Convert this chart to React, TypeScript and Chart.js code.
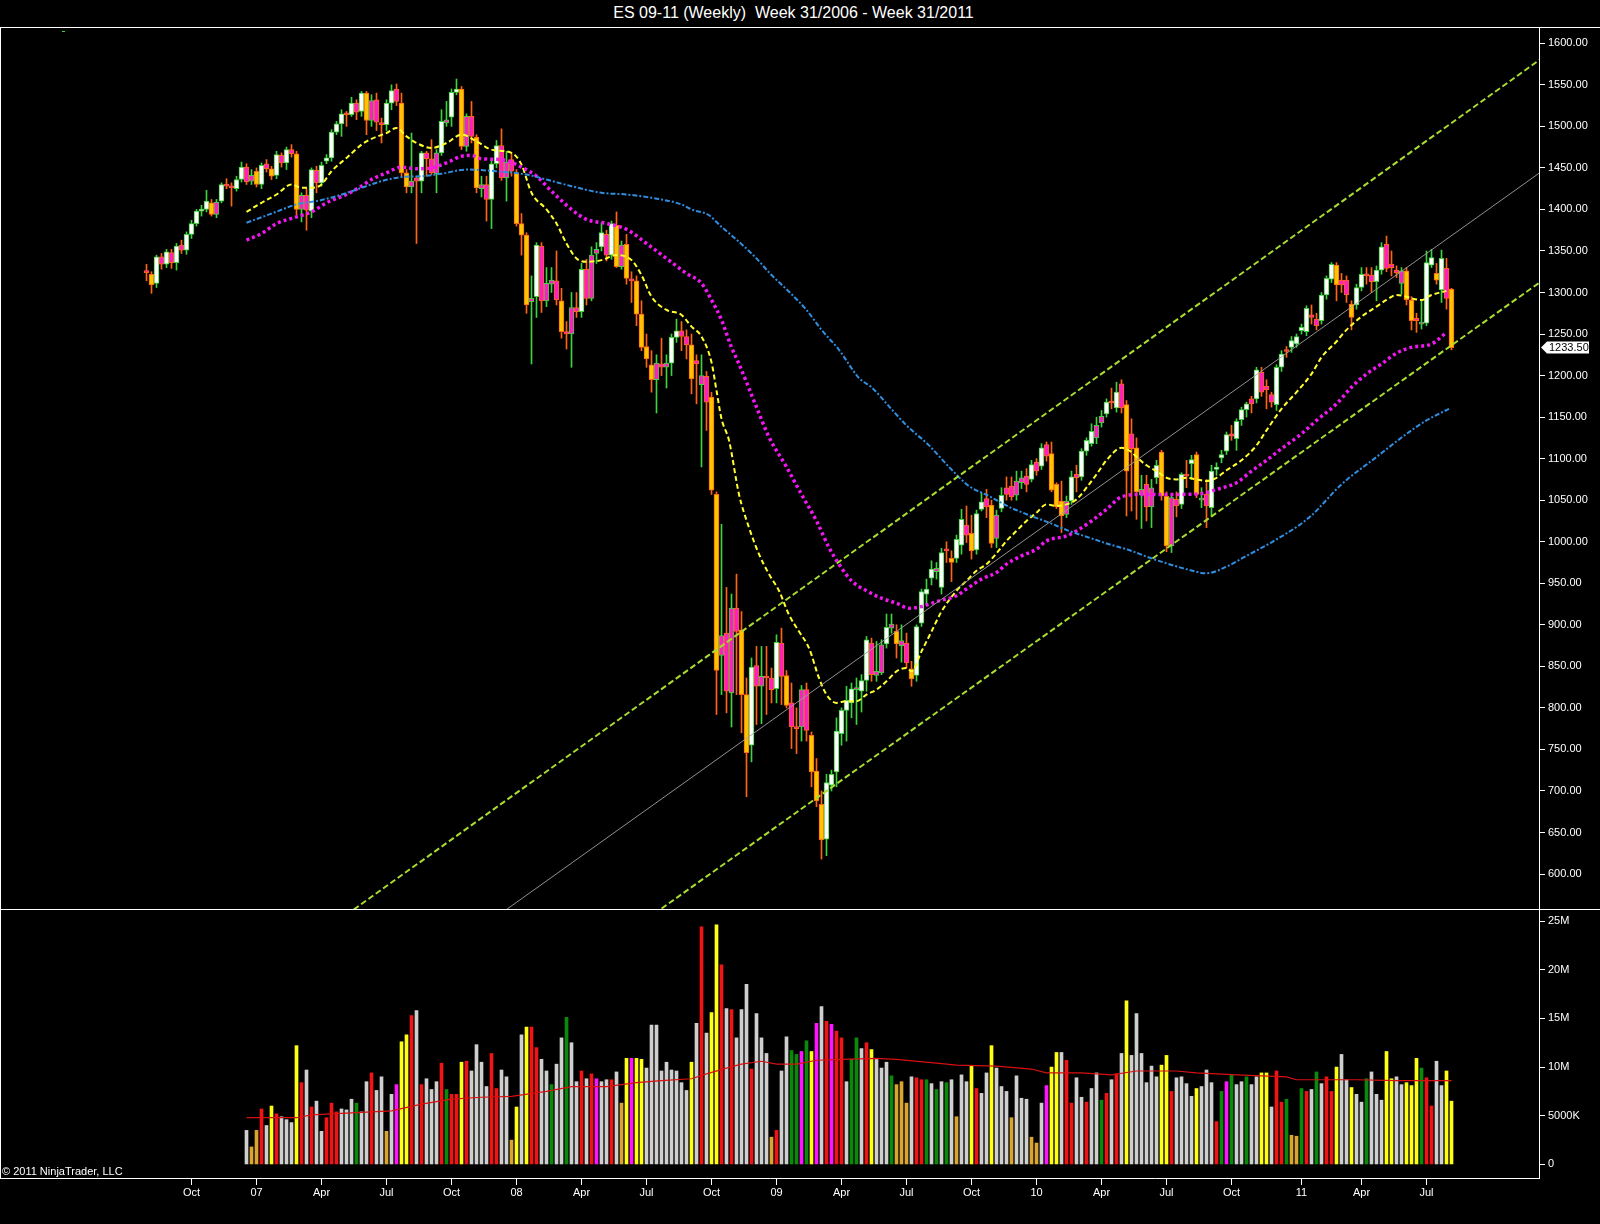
import { useEffect, useRef } from 'react';
import Chart from 'chart.js/auto';

// Weekly bars of the back-adjusted ES contract, bar 0 = Friday 4 Aug 2006 (week 31/2006)
const FIRST_BAR = Date.UTC(2006, 7, 4);
const WEEK_MS = 7 * 24 * 3600 * 1000;

const opens = [
  1325, 1322, 1311, 1343, 1334, 1348, 1336, 1357, 1351, 1370,
  1383, 1398, 1400, 1408, 1394, 1410, 1430, 1428, 1425, 1436,
  1451, 1434, 1446, 1430, 1455, 1449, 1441, 1465, 1456, 1472,
  1467, 1400, 1417, 1398, 1447, 1432, 1458, 1462, 1493, 1503,
  1515, 1514, 1528, 1518, 1540, 1507, 1532, 1503, 1502, 1528,
  1545, 1528, 1444, 1427, 1438, 1434, 1468, 1461, 1443, 1468,
  1504, 1511, 1541, 1545, 1476, 1512, 1487, 1425, 1430, 1412,
  1455, 1477, 1438, 1460, 1444, 1383, 1369, 1289, 1295, 1356,
  1290, 1310, 1314, 1290, 1253, 1250, 1282, 1277, 1328, 1293,
  1347, 1355, 1370, 1345, 1381, 1331, 1358, 1316, 1314, 1274,
  1235, 1213, 1195, 1214, 1210, 1215, 1246, 1254, 1247, 1237,
  1218, 1189, 1199, 1174, 1057, 863, 890, 818, 920, 894,
  816, 755, 851, 826, 838, 836, 823, 878, 839, 806,
  777, 777, 822, 767, 724, 684, 642, 707, 723, 769,
  797, 806, 822, 820, 833, 878, 839, 842, 877, 896,
  892, 875, 878, 847, 839, 902, 937, 956, 964, 945,
  990, 980, 980, 996, 1020, 1010, 990, 1039, 1052, 1044,
  1004, 1040, 1065, 1067, 1056, 1071, 1079, 1075, 1096, 1091,
  1117, 1106, 1069, 1049, 1033, 1049, 1081, 1078, 1109, 1118,
  1125, 1143, 1154, 1168, 1161, 1190, 1165, 1130, 1113, 1056,
  1069, 1042, 1077, 1108, 1055, 995, 1051, 1045, 1080, 1094,
  1105, 1050, 1057, 1041, 1087, 1101, 1109, 1130, 1124, 1147,
  1159, 1172, 1172, 1204, 1187, 1177, 1165, 1210, 1231, 1234,
  1238, 1254, 1253, 1273, 1268, 1266, 1297, 1316, 1333, 1315,
  1315, 1286, 1285, 1306, 1322, 1321, 1313, 1327, 1358, 1334,
  1327, 1311, 1326, 1291, 1269, 1262, 1263, 1333, 1323, 1303,
  1329, 1304,
];

const highs = [
  1334, 1325, 1345, 1347, 1352, 1352, 1359, 1363, 1373, 1387,
  1400, 1405, 1423, 1412, 1412, 1432, 1437, 1432, 1440, 1457,
  1455, 1448, 1450, 1456, 1460, 1452, 1470, 1468, 1475, 1478,
  1470, 1420, 1425, 1450, 1452, 1457, 1466, 1496, 1506, 1520,
  1518, 1535, 1532, 1542, 1542, 1538, 1540, 1510, 1532, 1550,
  1551, 1540, 1448, 1492, 1440, 1470, 1470, 1484, 1472, 1520,
  1530, 1545, 1557, 1548, 1515, 1530, 1490, 1440, 1440, 1460,
  1483, 1497, 1470, 1468, 1448, 1395, 1372, 1320, 1360, 1360,
  1330, 1330, 1350, 1305, 1265, 1300, 1300, 1335, 1340, 1355,
  1360, 1384, 1375, 1386, 1397, 1362, 1370, 1325, 1320, 1290,
  1250, 1230, 1225, 1245, 1225, 1250, 1268, 1265, 1255, 1250,
  1225, 1225, 1205, 1180, 1060, 1021, 945, 937, 961, 916,
  836, 860, 874, 874, 874, 848, 888, 896, 845, 830,
  800, 827, 830, 771, 739, 700, 720, 725, 788, 800,
  826, 830, 836, 840, 886, 884, 880, 882, 913, 913,
  900, 900, 890, 856, 900, 943, 955, 977, 975, 992,
  1000, 989, 1008, 1039, 1043, 1032, 1038, 1059, 1063, 1050,
  1038, 1065, 1078, 1078, 1085, 1085, 1088, 1098, 1100, 1118,
  1120, 1120, 1071, 1073, 1055, 1085, 1092, 1112, 1125, 1142,
  1150, 1158, 1172, 1185, 1192, 1195, 1170, 1148, 1125, 1080,
  1080, 1075, 1098, 1110, 1060, 1057, 1060, 1083, 1098, 1104,
  1108, 1065, 1075, 1092, 1095, 1110, 1132, 1140, 1148, 1162,
  1168, 1175, 1210, 1210, 1195, 1180, 1213, 1230, 1235, 1247,
  1250, 1262, 1284, 1285, 1275, 1300, 1320, 1336, 1336, 1323,
  1320, 1290, 1310, 1330, 1330, 1330, 1332, 1360, 1368, 1350,
  1332, 1330, 1330, 1295, 1275, 1290, 1350, 1352, 1335, 1351,
  1341, 1305,
];

const lows = [
  1314, 1299, 1306, 1328, 1330, 1329, 1327, 1347, 1346, 1365,
  1380, 1392, 1397, 1392, 1390, 1408, 1425, 1404, 1422, 1433,
  1430, 1430, 1427, 1425, 1445, 1436, 1437, 1451, 1448, 1463,
  1393, 1385, 1375, 1390, 1420, 1428, 1455, 1458, 1490, 1488,
  1500, 1512, 1508, 1512, 1490, 1500, 1495, 1480, 1495, 1520,
  1525, 1440, 1420, 1420, 1359, 1420, 1440, 1442, 1420, 1465,
  1500, 1500, 1538, 1472, 1470, 1480, 1420, 1415, 1386, 1377,
  1450, 1435, 1410, 1440, 1380, 1345, 1275, 1214, 1270, 1276,
  1283, 1300, 1285, 1245, 1232, 1210, 1270, 1270, 1285, 1290,
  1335, 1350, 1338, 1340, 1330, 1328, 1310, 1288, 1260, 1230,
  1210, 1180, 1155, 1200, 1185, 1200, 1240, 1230, 1220, 1178,
  1166, 1090, 1134, 1057, 792, 816, 794, 777, 816, 770,
  693, 735, 780, 781, 792, 806, 806, 804, 800, 751,
  745, 760, 760, 705, 681, 618, 622, 700, 705, 755,
  760, 788, 780, 795, 820, 832, 832, 840, 872, 890,
  860, 855, 848, 826, 832, 898, 925, 948, 955, 937,
  975, 952, 975, 985, 999, 979, 985, 1037, 1029, 993,
  993, 1036, 1050, 1050, 1050, 1064, 1060, 1072, 1080, 1087,
  1097, 1060, 1040, 1011, 1029, 1045, 1060, 1074, 1104, 1115,
  1118, 1138, 1150, 1160, 1156, 1155, 1031, 1037, 1027, 1016,
  1025, 1017, 1070, 1050, 988, 987, 1030, 1040, 1065, 1075,
  1053, 1041, 1017, 1030, 1080, 1095, 1105, 1122, 1110, 1140,
  1150, 1155, 1167, 1175, 1160, 1162, 1158, 1205, 1222, 1228,
  1234, 1250, 1248, 1262, 1255, 1262, 1292, 1312, 1290, 1300,
  1288, 1255, 1280, 1302, 1310, 1300, 1290, 1322, 1325, 1320,
  1318, 1298, 1285, 1255, 1252, 1256, 1260, 1330, 1310, 1288,
  1280, 1231,
];

const closes = [
  1324, 1309, 1343, 1334, 1349, 1336, 1356, 1351, 1370, 1383,
  1398, 1400, 1410, 1394, 1409, 1430, 1428, 1426, 1436, 1451,
  1433, 1441, 1430, 1453, 1449, 1440, 1466, 1456, 1472, 1467,
  1400, 1417, 1399, 1448, 1432, 1453, 1462, 1493, 1503, 1515,
  1514, 1528, 1517, 1540, 1507, 1531, 1505, 1502, 1528, 1543,
  1530, 1444, 1427, 1434, 1434, 1468, 1461, 1444, 1468, 1506,
  1508, 1541, 1545, 1476, 1512, 1488, 1426, 1430, 1412, 1455,
  1477, 1438, 1457, 1446, 1383, 1369, 1285, 1293, 1357, 1290,
  1311, 1315, 1291, 1253, 1250, 1282, 1277, 1328, 1293, 1345,
  1352, 1372, 1345, 1383, 1331, 1357, 1317, 1314, 1274, 1234,
  1220, 1195, 1215, 1210, 1215, 1246, 1254, 1247, 1237, 1196,
  1214, 1200, 1168, 1062, 845, 887, 820, 920, 892, 816,
  746, 849, 826, 838, 836, 822, 879, 838, 803, 777,
  775, 822, 773, 723, 688, 641, 710, 720, 772, 797,
  809, 823, 823, 833, 882, 840, 844, 876, 897, 901,
  877, 881, 854, 835, 898, 940, 943, 967, 968, 987,
  989, 975, 1003, 1027, 1008, 989, 1034, 1048, 1042, 998,
  1032, 1056, 1057, 1054, 1073, 1077, 1069, 1093, 1085, 1113,
  1103, 1062, 1042, 1031, 1049, 1078, 1077, 1109, 1122, 1133,
  1140, 1151, 1168, 1167, 1180, 1161, 1085, 1112, 1060, 1063,
  1042, 1065, 1092, 1055, 995, 1053, 1043, 1081, 1079, 1099,
  1057, 1052, 1043, 1085, 1090, 1105, 1129, 1127, 1145, 1159,
  1166, 1166, 1207, 1180, 1183, 1168, 1210, 1226, 1229, 1242,
  1247, 1258, 1281, 1270, 1260, 1297, 1317, 1334, 1309, 1309,
  1297, 1270, 1306, 1322, 1320, 1313, 1327, 1355, 1329, 1330,
  1324, 1326, 1291, 1266, 1266, 1264, 1336, 1342, 1315, 1341,
  1293, 1233.5,
];

// candle paint: w = hollow up, g = magenta up, m = magenta down, y = yellow down
const candleKinds = (
  'mywmwmwmww' + 'wwwygwmmww' + 'mgywmywmwm' + 'ygmwmwwwww' + 'mwmwygmmww' +
  'myygmwmmgw' + 'gwwygmygmw' + 'wmgmyyygwm' + 'ggmymgmwmg' + 'gwmwygymyy' +
  'yygmgwwmmy' + 'mgmyygmgmy' + 'ywmgmmwmym' + 'mgmyyywwww' + 'wwgwwmggwg' +
  'ygmywwwwgw' + 'mywwmywwmy' + 'gwmmggmwmw' + 'myyygwmwww' + 'ggwmwmymyg' +
  'mgwyygmwmw' + 'ygmwwwwmww' + 'wmwmmmwwmw' + 'wwwmmwwwym' + 'mywwmmwwmm' +
  'mgyymgwwyw' + 'my'
).split('');

// volume (millions of contracts), first bar with volume is bar 20
const volumeStart = 20;
const volumes = [
  3.5, 1.8, 3.5, 5.7, 4.0, 6.0, 5.2, 4.9, 4.6, 4.3,
  12.2, 8.4, 9.7, 5.9, 6.5, 3.4, 4.8, 6.3, 5.4, 5.7,
  5.6, 6.7, 6.3, 5.4, 8.5, 9.4, 7.6, 9.0, 3.4, 7.2,
  8.2, 12.6, 13.3, 15.3, 15.8, 8.2, 8.8, 7.7, 8.5, 10.4,
  7.7, 7.2, 7.2, 10.5, 10.6, 9.6, 12.3, 10.5, 8.0, 11.4,
  7.8, 9.7, 9.0, 2.5, 5.9, 13.3, 14.1, 14.1, 12.0, 10.8,
  9.6, 8.2, 10.3, 13.0, 15.1, 12.5, 8.5, 9.6, 8.8, 9.3,
  8.8, 8.5, 8.7, 8.7, 9.5, 6.3, 10.9, 10.9, 10.9, 10.8,
  9.9, 14.3, 14.3, 9.6, 10.5, 9.7, 9.6, 8.4, 7.6, 10.5,
  14.5, 24.4, 13.5, 15.6, 24.6, 20.5, 16.0, 15.9, 13.0, 15.9,
  18.5, 9.8, 15.5, 13.0, 11.4, 2.8, 3.5, 9.6, 13.1, 11.7,
  11.3, 11.6, 12.7, 11.6, 14.5, 16.2, 14.7, 14.4, 13.7, 13.0,
  8.5, 10.8, 13.0, 11.9, 12.5, 11.8, 10.9, 9.9, 10.5, 9.1,
  8.2, 8.5, 6.3, 9.0, 8.9, 8.7, 8.7, 8.3, 7.7, 8.5,
  8.4, 8.7, 4.9, 9.2, 8.5, 10.1, 7.8, 7.3, 9.4, 12.2,
  9.9, 8.0, 7.5, 4.8, 9.1, 6.8, 6.7, 2.8, 2.2, 6.3,
  8.1, 10.0, 11.5, 11.5, 10.7, 6.3, 8.9, 6.9, 6.4, 7.8,
  9.4, 6.6, 7.3, 8.7, 9.3, 11.4, 16.8, 11.2, 15.5, 11.4,
  8.4, 10.1, 9.0, 10.2, 11.2, 7.5, 8.9, 9.0, 8.3, 7.0,
  7.8, 8.0, 9.7, 8.4, 4.4, 7.5, 8.5, 9.2, 8.2, 8.5,
  9.0, 8.2, 9.0, 9.4, 9.4, 5.9, 9.6, 6.4, 6.7, 3.0,
  2.9, 7.8, 7.5, 7.7, 9.5, 8.3, 9.0, 7.5, 10.0, 11.3,
  8.7, 7.9, 7.2, 6.4, 8.8, 9.5, 7.2, 6.6, 11.6, 8.8,
  9.0, 8.2, 8.4, 8.1, 10.9, 9.9, 8.9, 6.0, 10.6, 8.1,
  9.6, 6.5,
];

// volume paint: w white, o gold, r red, y yellow, g green, m magenta
const volumeKinds = (
  'woorwyrwww' + 'yrwrwwrrrw' + 'wwgwwrwwow' + 'myyrwrwwwr' + 'grryrwwwwr' +
  'rwwoywyrrw' + 'wgwwgwwrwr' + 'mwwrwoymyy' + 'wwwwwwwwwy' + 'wrwyyrwrww' +
  'wrwwworwwg' + 'gmgymwrmrr' + 'wggwrywwwg' + 'ooowrrgwgw' + 'gwowwyrwwy' +
  'wwwowwwoow' + 'myywrrwwrw' + 'wgrwrwywww' + 'wwwyyrwwww' + 'ywwwrgmgww' +
  'gwwyywrrgo' + 'ogrwgwrryw' + 'wywwgwwwyy' + 'wwyyygrrww' + 'yy'
).split('');

// moving averages: [bar, value]
const fastAverage = [
  [20, 1397], [23, 1408], [26, 1418], [29, 1430], [31, 1426], [33, 1426], [35, 1430], [37, 1446],
  [40, 1462], [43, 1478], [45, 1485], [48, 1492], [50, 1498], [52, 1488], [54, 1480], [57, 1474],
  [60, 1480], [63, 1490], [66, 1482], [69, 1472], [73, 1468], [75, 1454], [77, 1420], [80, 1400],
  [82, 1383], [84, 1359], [86, 1341], [88, 1337], [91, 1339], [94, 1345], [97, 1339], [99, 1321],
  [101, 1295], [104, 1279], [107, 1273], [109, 1259], [111, 1247], [113, 1216], [114, 1182],
  [115, 1148], [116.5, 1122], [118.5, 1057], [120.5, 1017], [122.5, 985], [124.5, 961], [126.5, 941],
  [128.5, 912], [130.5, 892], [132.5, 872], [134.5, 836], [136, 816], [138, 806], [140, 808],
  [142, 808], [144, 816], [146, 822], [148, 832], [150, 844], [152, 848], [153, 844], [155, 868],
  [157, 892], [159, 916], [162, 941], [164, 953], [166, 965], [168, 973], [170, 986], [172, 1001],
  [174, 1013], [176, 1025], [178, 1035], [180, 1045], [182, 1043], [184, 1045], [186, 1051],
  [188, 1065], [190, 1081], [192, 1098], [195, 1113], [197, 1108], [198, 1102], [200, 1092],
  [202, 1085], [204, 1077], [206, 1075], [208, 1077], [210, 1075], [212, 1073], [214, 1077],
  [216, 1086], [219, 1098], [222, 1116], [224, 1134], [227, 1160], [230, 1180], [233, 1202],
  [235, 1222], [238, 1241], [240, 1255], [243, 1271], [246, 1283], [248, 1291], [250, 1297],
  [252, 1295], [253, 1293], [255, 1291], [257, 1297], [260, 1302],
];

const midAverage = [
  [20, 1363], [23, 1371], [26, 1383], [30, 1391], [33, 1397], [36, 1408], [40, 1418], [43, 1428],
  [45, 1436], [48, 1444], [51, 1451], [54, 1449], [57, 1450], [60, 1456], [63, 1464], [65, 1465],
  [67, 1461], [71, 1460], [75, 1451], [78, 1440], [81, 1422], [85, 1400], [88, 1388], [92, 1383],
  [96, 1376], [100, 1359], [104, 1341], [108, 1323], [111, 1311], [113, 1291], [115, 1267],
  [117, 1234], [118.5, 1214], [122, 1162], [124.5, 1126], [128, 1090], [131, 1057], [134, 1025],
  [136.5, 993], [138.5, 973], [141, 953], [144, 941], [147, 932], [150, 926], [152.5, 920],
  [155, 922], [158, 928], [162, 935], [164, 943], [167, 955], [170, 963], [172, 973], [175, 983],
  [178, 991], [180, 1001], [184, 1007], [186, 1013], [189, 1025], [192, 1039], [195, 1054],
  [199, 1057], [203, 1057], [207, 1057], [211, 1058], [214, 1063], [218, 1071], [221, 1085],
  [224, 1098], [227, 1112], [231, 1130], [234, 1146], [238, 1166], [241, 1186], [244, 1202],
  [247, 1214], [250, 1227], [253, 1234], [257, 1238], [260, 1252],
];

const slowAverage = [
  [20, 1384], [25, 1395], [30, 1406], [34, 1410], [38, 1416], [43, 1426], [47, 1434], [51, 1439],
  [55, 1440], [59, 1443], [64, 1448], [70, 1446], [76, 1442], [80, 1436], [85, 1428], [91, 1420],
  [96, 1418], [101, 1414], [107, 1406], [109, 1400], [112.5, 1393], [115, 1379], [118.5, 1361],
  [122, 1341], [125, 1321], [128.5, 1301], [132, 1279], [135, 1255], [138.5, 1231], [142.5, 1197],
  [145, 1186], [148.5, 1163], [152, 1140], [156.5, 1116], [160.5, 1090], [164.5, 1067],
  [168.5, 1055], [172.5, 1042], [176.5, 1032], [180.5, 1023], [184.5, 1013], [188.5, 1005],
  [192.5, 997], [196.5, 990], [200.5, 981], [204, 974], [208, 967], [212, 962], [216, 970],
  [220, 983], [225.5, 1001], [232.5, 1029], [239, 1069], [246, 1102], [252.5, 1132], [256, 1146],
  [260.5, 1160],
];

const volumeAverage = [
  [20, 4.8], [30, 4.8], [33, 5.1], [49, 5.5], [55, 6.2], [61, 6.7], [67, 6.9], [73, 7.0],
  [80, 7.5], [85, 8.0], [92, 8.0], [98, 8.4], [103, 8.6], [109, 8.8], [112, 9.3], [116, 9.9],
  [119, 10.3], [123, 10.6], [126, 10.3], [130, 10.3], [134, 10.7], [139, 10.8], [146, 10.9],
  [150, 10.8], [158, 10.4], [162, 10.2], [170, 10.1], [177, 9.8], [180, 9.4], [187, 9.4],
  [193, 9.2], [198, 9.6], [206, 9.6], [210, 9.4], [218, 9.2], [228, 9.0], [230, 8.7],
  [242, 8.7], [250, 8.6], [261, 8.6],
];

// regression channel (bar, price) at both ends
const channelBars = [40, 280];
const channelUpper = [551, 1586];
const channelMiddle = [420, 1450];
const channelLower = [288, 1318];

const priceTicks = [
  600, 650, 700, 750, 800, 850, 900, 950, 1000, 1050, 1100,
  1150, 1200, 1250, 1300, 1350, 1400, 1450, 1500, 1550, 1600,
];
const volumeTicks = [0, 5, 10, 15, 20, 25];
const volumeTickLabels = ['0', '5000K', '10M', '15M', '20M', '25M'];
const quarterNames = ['', '', '', 'Apr', '', '', 'Jul', '', '', 'Oct', '', ''];

const FONT = '"Liberation Sans", Arial, sans-serif';
const X_MIN = -29.1;
const X_MAX = 278.5;

const candleFill: Record<string, string> = { w: '#ffffff', g: '#ff1ec0', m: '#ff1ec0', y: '#ffc400' };
const candleEdge: Record<string, string> = { w: '#3fd23f', g: '#3fd23f', m: '#ff6414', y: '#ff6414' };
const volumeColor: Record<string, string> = {
  w: '#cfcfcf', o: '#d9a530', r: '#f01414', y: '#ffff14', g: '#0a8a0a', m: '#ff14ff',
};

const quarterTicks: { value: number; label: string }[] = [];
for (let i = 1; i < closes.length; i++) {
  const d = new Date(FIRST_BAR + i * WEEK_MS);
  const p = new Date(FIRST_BAR + (i - 1) * WEEK_MS);
  const m = d.getUTCMonth();
  if (m !== p.getUTCMonth() && m % 3 === 0) {
    quarterTicks.push({ value: i, label: m === 0 ? String(d.getUTCFullYear()).slice(2) : quarterNames[m] });
  }
}

const toPoints = (pairs: number[][]) => pairs.map(([x, y]) => ({ x, y }));

const lastPriceTag = {
  id: 'lastPriceTag',
  afterDraw(chart: any) {
    const { ctx } = chart;
    const y = chart.scales.y;
    const last = closes[closes.length - 1];
    const py = Math.round(y.getPixelForValue(last)) - 0.5;
    const x0 = y.left + 2;
    ctx.save();
    ctx.fillStyle = '#ffffff';
    ctx.beginPath();
    ctx.moveTo(x0, py);
    ctx.lineTo(x0 + 6, py - 6);
    ctx.lineTo(x0 + 48, py - 6);
    ctx.lineTo(x0 + 48, py + 6);
    ctx.lineTo(x0 + 6, py + 6);
    ctx.closePath();
    ctx.fill();
    ctx.fillStyle = '#000000';
    ctx.font = `11px ${FONT}`;
    ctx.textBaseline = 'middle';
    ctx.textAlign = 'left';
    ctx.fillText(last.toFixed(2), x0 + 8, py + 0.5);
    ctx.restore();
  },
};

const App = () => {
  const priceRef = useRef<HTMLCanvasElement | null>(null);
  const volumeRef = useRef<HTMLCanvasElement | null>(null);

  useEffect(() => {
    if (!priceRef.current || !volumeRef.current) return;

    const bars = closes.map((_, i) => i);
    const tickFont = { family: FONT, size: 11 };

    const xAxis = (show: boolean) => ({
      type: 'linear' as const,
      display: show,
      min: X_MIN,
      max: X_MAX,
      offset: false,
      afterBuildTicks: (s: any) => {
        s.ticks = quarterTicks.map((t) => ({ value: t.value }));
      },
      afterFit: (s: any) => {
        if (!show) return;
        s.height = 46;
        s.paddingLeft = 0;
        s.paddingRight = 0;
      },
      grid: { offset: false, drawOnChartArea: false, drawTicks: true, tickLength: 7, color: '#ffffff' },
      border: { display: true, color: '#ffffff' },
      ticks: {
        autoSkip: false,
        maxRotation: 0,
        color: '#ffffff',
        padding: 1,
        font: tickFont,
        callback: (_v: any, i: number) => quarterTicks[i]?.label ?? '',
      },
    });

    const priceChart = new Chart(priceRef.current, {
      type: 'bar',
      data: {
        datasets: [
          {
            type: 'line',
            data: channelBars.map((x, i) => ({ x, y: channelUpper[i] })),
            borderColor: '#a8dc30',
            borderWidth: 2,
            borderDash: [6, 3],
            pointRadius: 0,
            order: 0,
          },
          {
            type: 'line',
            data: channelBars.map((x, i) => ({ x, y: channelLower[i] })),
            borderColor: '#a8dc30',
            borderWidth: 2,
            borderDash: [6, 3],
            pointRadius: 0,
            order: 0,
          },
          {
            type: 'line',
            data: channelBars.map((x, i) => ({ x, y: channelMiddle[i] })),
            borderColor: 'rgba(160,160,160,0.9)',
            borderWidth: 1,
            pointRadius: 0,
            order: 0,
          },
          {
            type: 'line',
            data: toPoints(slowAverage),
            borderColor: '#2f8ee0',
            borderWidth: 2,
            borderDash: [5, 2, 2, 2],
            pointRadius: 0,
            cubicInterpolationMode: 'monotone',
            order: 0,
          },
          {
            type: 'line',
            data: toPoints(midAverage),
            borderColor: '#f018f0',
            borderWidth: 3.5,
            borderDash: [3, 3],
            borderCapStyle: 'butt',
            pointRadius: 0,
            cubicInterpolationMode: 'monotone',
            order: 0,
          },
          {
            type: 'line',
            data: toPoints(fastAverage),
            borderColor: '#ffff30',
            borderWidth: 2,
            borderDash: [5, 3],
            pointRadius: 0,
            cubicInterpolationMode: 'monotone',
            order: 0,
          },
          {
            type: 'bar',
            data: bars.map((i) => ({ x: i, y: [opens[i], closes[i]] })) as any,
            backgroundColor: candleKinds.map((k) => candleFill[k]),
            borderColor: candleKinds.map((k) => candleEdge[k]),
            borderWidth: 1,
            borderSkipped: false,
            barThickness: 5,
            minBarLength: 2,
            grouped: false,
            order: 1,
          },
          {
            type: 'bar',
            data: bars.map((i) => ({ x: i, y: [lows[i], highs[i]] })) as any,
            backgroundColor: candleKinds.map((k) => candleEdge[k]),
            borderWidth: 0,
            barThickness: 1,
            grouped: false,
            order: 2,
          },
        ],
      },
      options: {
        responsive: false,
        animation: false,
        events: [],
        layout: { padding: { left: 1, right: 0, top: 0, bottom: 0 } },
        plugins: { legend: { display: false }, tooltip: { enabled: false } },
        scales: {
          x: xAxis(false) as any,
          y: {
            type: 'linear',
            position: 'right',
            min: 557.9,
            max: 1618.4,
            afterBuildTicks: (s: any) => {
              s.ticks = priceTicks.map((v) => ({ value: v }));
            },
            afterFit: (s: any) => {
              s.width = 61;
              s.paddingTop = 0;
              s.paddingBottom = 0;
            },
            grid: { drawOnChartArea: false, tickLength: 6, color: '#ffffff' },
            border: { display: true, color: '#ffffff' },
            ticks: {
              color: '#ffffff',
              padding: 3,
              font: tickFont,
              callback: (v: any) => Number(v).toFixed(2),
            },
          },
        },
      },
      plugins: [lastPriceTag],
    } as any);

    const volumeChart = new Chart(volumeRef.current, {
      type: 'bar',
      data: {
        datasets: [
          {
            type: 'line',
            data: toPoints(volumeAverage),
            borderColor: '#d81010',
            borderWidth: 1.2,
            pointRadius: 0,
            order: 0,
          },
          {
            type: 'bar',
            data: volumes.map((v, i) => ({ x: volumeStart + i, y: v })),
            backgroundColor: volumeKinds.map((k) => volumeColor[k]),
            borderWidth: 0,
            barThickness: 3,
            grouped: false,
            order: 1,
          },
        ],
      },
      options: {
        responsive: false,
        animation: false,
        events: [],
        layout: { padding: { left: 1, right: 0, top: 0, bottom: 0 } },
        plugins: { legend: { display: false }, tooltip: { enabled: false } },
        scales: {
          x: xAxis(true) as any,
          y: {
            type: 'linear',
            position: 'right',
            min: -1.39,
            max: 26.13,
            afterBuildTicks: (s: any) => {
              s.ticks = volumeTicks.map((v) => ({ value: v }));
            },
            afterFit: (s: any) => {
              s.width = 61;
              s.paddingTop = 0;
              s.paddingBottom = 0;
            },
            grid: { drawOnChartArea: false, tickLength: 6, color: '#ffffff' },
            border: { display: true, color: '#ffffff' },
            ticks: {
              color: '#ffffff',
              padding: 3,
              font: tickFont,
              callback: (_v: any, i: number) => volumeTickLabels[i],
            },
          },
        },
      },
    } as any);

    return () => {
      priceChart.destroy();
      volumeChart.destroy();
    };
  }, []);

  const line = (left: number, top: number, width: number, height: number) => (
    <div style={{ position: 'absolute', left, top, width, height, background: '#ffffff' }} />
  );

  return (
    <div
      style={{
        position: 'absolute',
        left: 0,
        top: 0,
        width: 1600,
        height: 1224,
        background: '#000000',
        overflow: 'hidden',
        fontFamily: FONT,
      }}
    >
      <div
        style={{
          position: 'absolute',
          left: 0,
          top: 5,
          width: 1587,
          textAlign: 'center',
          color: '#ffffff',
          fontSize: 16,
          lineHeight: '16px',
          whiteSpace: 'pre',
        }}
      >
        {'ES 09-11 (Weekly)  Week 31/2006 - Week 31/2011'}
      </div>
      {line(0, 27, 1600, 1)}
      <canvas ref={priceRef} width={1600} height={881} style={{ position: 'absolute', left: 0, top: 28 }} />
      {line(0, 909, 1600, 1)}
      <canvas ref={volumeRef} width={1600} height={314} style={{ position: 'absolute', left: 0, top: 910 }} />
      {line(0, 27, 1, 1152)}
      <div style={{ position: 'absolute', left: 62, top: 31, width: 3, height: 1, background: '#3fd23f' }} />
      <div
        style={{
          position: 'absolute',
          left: 2,
          top: 1166,
          color: '#ffffff',
          fontSize: 11,
          lineHeight: '11px',
          whiteSpace: 'pre',
        }}
      >
        {'\u00a9 2011 NinjaTrader, LLC'}
      </div>
    </div>
  );
};

export default App;
